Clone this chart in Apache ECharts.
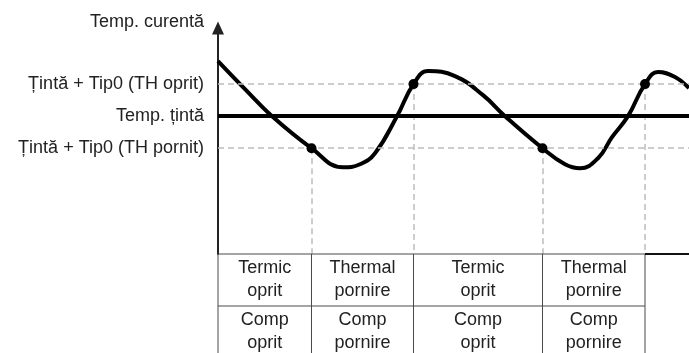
<!DOCTYPE html>
<html><head><meta charset="utf-8">
<script src="https://cdn.jsdelivr.net/npm/echarts@6/dist/echarts.min.js"></script>
<style>html,body{margin:0;padding:0;background:#fff}#c{width:689px;height:353px}</style>
</head><body><div id="c"></div>
<script>
// Temperature curve over time
const curveTime = [0, 2.7, 5.4, 9.35, 12.5, 14.2, 15.7, 17.9, 19.55, 21.0, 23.7, 26.5, 28.7, 32.45, 34.7, 36.2, 38.0, 39.4, 41.0, 42.7, 44.0, 45.7, 47.1];
const curveTemp = [23.44, 21.69, 20.0, 18.0, 16.81, 17.0, 17.69, 20.0, 22.0, 22.81, 22.5, 21.31, 20.0, 18.0, 17.0, 16.75, 17.375, 18.69, 20.0, 22.0, 22.75, 22.44, 21.75];

// Switching moments and the thresholds reached there
const switchTime = [9.35, 19.55, 32.45, 42.7];
const switchTemp = [18, 22, 18, 22];

// Reference levels
const targetTemp = 20;
const offTemp = 22;
const onTemp = 18;
const levelLabels = { 22: 'Țintă + Tip0 (TH oprit)', 20: 'Temp. țintă', 18: 'Țintă + Tip0 (TH pornit)' };

// Phase table under the time axis
const phaseBounds = [0, 9.35, 19.55, 32.45, 42.7];
const thermalRow = ['Termic\noprit', 'Thermal\npornire', 'Termic\noprit', 'Thermal\npornire'];
const compRow = ['Comp\noprit', 'Comp\npornire', 'Comp\noprit', 'Comp\npornire'];

const T_MIN = 11.4, T_MAX = 25.5, X_MAX = 47.1;
const FONT = "'Liberation Sans', Arial, sans-serif";
const DASH = { color: '#bdbdbd', width: 1.5, type: [6, 4] };

const chart = echarts.init(document.getElementById('c'), null, { renderer: 'canvas' });

const option = {
  animation: false,
  backgroundColor: '#fff',
  grid: { left: 218, right: 0, top: 28, bottom: 99 },
  xAxis: {
    type: 'value', min: 0, max: X_MAX,
    axisLine: { show: false }, axisTick: { show: false },
    axisLabel: { show: false }, splitLine: { show: false }
  },
  yAxis: {
    type: 'value', min: T_MIN, max: T_MAX,
    name: 'Temp. curentă',
    nameLocation: 'end', nameGap: 6,
    nameTextStyle: { fontFamily: FONT, fontSize: 18, color: '#222', align: 'right', verticalAlign: 'middle', padding: [0, 14, 0, 0] },
    axisLine: { show: true, symbol: ['none', 'triangle'], symbolSize: [12, 13], symbolOffset: [0, 0], lineStyle: { color: '#222', width: 2 } },
    axisTick: { show: false },
    splitLine: { show: false },
    axisLabel: {
      customValues: [onTemp, targetTemp, offTemp],
      formatter: v => levelLabels[v] || '',
      fontFamily: FONT, fontSize: 18, color: '#222', margin: 14
    }
  },
  series: [
    {
      type: 'line', name: 'levels', data: [], silent: true,
      markLine: {
        silent: true, symbol: ['none', 'none'], label: { show: false },
        data: [
          { yAxis: offTemp, lineStyle: DASH },
          { yAxis: onTemp, lineStyle: DASH }
        ].concat(switchTime.map((t, i) => [
          { coord: [t, switchTemp[i]], lineStyle: DASH },
          { coord: [t, T_MIN] }
        ]))
      }
    },
    {
      type: 'line', name: 'target', data: [], silent: true,
      markLine: {
        silent: true, symbol: ['none', 'none'], label: { show: false },
        data: [{ yAxis: targetTemp, lineStyle: { color: '#000', width: 4, type: 'solid' } }]
      }
    },
    {
      type: 'line', name: 'curve', smooth: 0.45, showSymbol: false,
      lineStyle: { color: '#000', width: 4 },
      data: curveTime.map((t, i) => [t, curveTemp[i]]),
      z: 3
    },
    {
      type: 'scatter', name: 'switch', symbol: 'circle', symbolSize: 10,
      itemStyle: { color: '#000', borderColor: '#000', borderWidth: 0, opacity: 1 },
      data: switchTime.map((t, i) => [t, switchTemp[i]]),
      z: 20
    }
  ]
};
chart.setOption(option);

// Phase table drawn below the plot
function buildTable() {
  const px = t => chart.convertToPixel({ gridIndex: 0 }, [t, T_MIN])[0];
  const top = chart.convertToPixel({ gridIndex: 0 }, [0, T_MIN])[1];
  const rowH = 52;
  const right = chart.convertToPixel({ gridIndex: 0 }, [X_MAX, T_MIN])[0];
  const lastX = px(phaseBounds[phaseBounds.length - 1]);
  const els = [];
  const lineStyle = { stroke: '#4a4a4a', lineWidth: 1 };
  const xs = phaseBounds.map(px);
  // horizontal rules
  [top, top + rowH].forEach(y => els.push({ type: 'line', shape: { x1: xs[0], y1: y, x2: lastX, y2: y }, style: lineStyle, z: 10 }));
  // vertical rules
  xs.forEach(x => els.push({ type: 'line', shape: { x1: x, y1: top, x2: x, y2: top + 2 * rowH + 10 }, style: lineStyle, z: 10 }));
  // remaining time axis segment
  els.push({ type: 'line', shape: { x1: lastX, y1: top, x2: right, y2: top }, style: { stroke: '#111', lineWidth: 2 }, z: 10 });
  // cell texts
  [thermalRow, compRow].forEach((row, r) => {
    row.forEach((txt, c) => {
      els.push({
        type: 'text', z: 11,
        x: (xs[c] + xs[c + 1]) / 2, y: top + r * rowH + rowH / 2,
        style: { text: txt, font: '18px ' + FONT, fill: '#222', align: 'center', verticalAlign: 'middle', lineHeight: 23 }
      });
    });
  });
  chart.setOption({ graphic: els });
}
buildTable();
</script>
</body></html>
